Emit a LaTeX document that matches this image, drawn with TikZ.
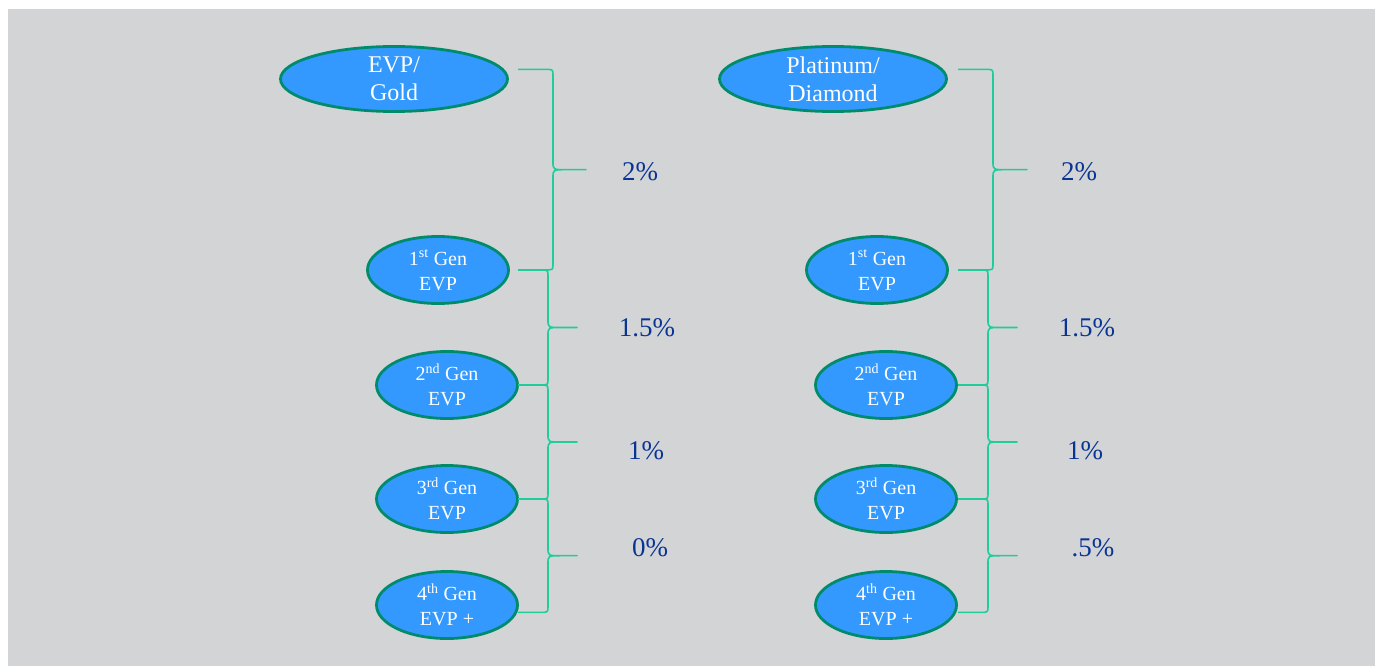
\documentclass[tikz,border=0pt]{standalone}
\usepackage{fontspec}
\setmainfont{Liberation Serif}
\usetikzlibrary{shapes.geometric, calc}
\definecolor{slate}{HTML}{D3D4D6}
\definecolor{rankfill}{HTML}{3399FF}
\definecolor{rankedge}{HTML}{008C6C}
\definecolor{bracegreen}{HTML}{1FCC9A}
\definecolor{ratenavy}{HTML}{0A3494}

\begin{document}
\begin{tikzpicture}[ % one pixel of the layout is one point
        x=1pt, y=-1pt,
        rank/.style={ellipse, draw=rankedge, line width=2.8pt, fill=rankfill, text=white, align=center,
            inner sep=0pt, inner ysep=-12pt, minimum width=141pt, minimum height=67pt,
            font=\fontsize{20}{25}\selectfont}, % generation bubbles
        toprank/.style={rank, minimum width=227pt, minimum height=65pt, font=\fontsize{24}{28}\selectfont}, % title bubbles
        rate/.style={text=ratenavy, font=\fontsize{27}{30}\selectfont}, % percentages
        gapbrace/.style n args={3}{draw=bracegreen, line width=1.6pt, line join=round, to path={
            let \p1=(\tikztostart), \p2=(\tikztotarget), \p3=($(\p1)!.5!(\p2)$) in
            (#1pt,\y1) -- (#2pt-8pt,\y1) .. controls (#2pt,\y1) .. (#2pt,\y1-6pt)
            -- (#2pt,\y3+8pt) .. controls (#2pt,\y3) .. (#2pt+13pt,\y3) -- (#3pt,\y3)
            -- (#2pt+13pt,\y3) .. controls (#2pt,\y3) .. (#2pt,\y3-8pt)
            -- (#2pt,\y2+6pt) .. controls (#2pt,\y2) .. (#2pt-8pt,\y2) -- (#1pt,\y2)}} % bracket between two ranks
    ]
    \useasboundingbox (0,0) rectangle (1381,666);
    \fill[slate] (8,9) rectangle (1375,666);
    % --- Rank bubbles ---
    \node (evpgold) [toprank] at (394,79) {EVP/\\Gold};
    \node (platdia) [toprank] at (833,79) {Platinum/\\Diamond};
    \foreach \n/\sfx/\xx/\yy/\tail in {1/st/438/270/EVP, 2/nd/447/385/EVP, 3/rd/447/499/EVP, 4/th/447/605/EVP +} {
        \node (lgen\n) [rank] at (\xx,\yy) {\n\textsuperscript{\sfx} Gen\\\tail};
        \node (rgen\n) [rank] at (\xx+439,\yy) {\n\textsuperscript{\sfx} Gen\\\tail};
    }
    % --- Brackets between ranks ---
    \draw[gapbrace={518}{553}{586}] (evpgold.5) to (lgen1.east);
    \draw[gapbrace={518}{548}{577}] (lgen1.east) to (lgen2.east);
    \draw[gapbrace={518}{548}{577}] (lgen2.east) to (lgen3.east);
    \draw[gapbrace={518}{548}{577}] (lgen3.east) to (lgen4.-6);
    \draw[gapbrace={958}{993}{1027}] (platdia.5) to (rgen1.east);
    \draw[gapbrace={958}{988}{1017}] (rgen1.east) to (rgen2.east);
    \draw[gapbrace={958}{988}{1017}] (rgen2.east) to (rgen3.east);
    \draw[gapbrace={958}{988}{1017}] (rgen3.east) to (rgen4.-6);
    % --- Percentages ---
    \node (lrate1) [rate] at (640,172) {2\%};
    \node (lrate2) [rate] at (647,328) {1.5\%};
    \node (lrate3) [rate] at (646,451) {1\%};
    \node (lrate4) [rate] at (650,548) {0\%};
    \node (rrate1) [rate] at (1079,172) {2\%};
    \node (rrate2) [rate] at (1087,328) {1.5\%};
    \node (rrate3) [rate] at (1085,451) {1\%};
    \node (rrate4) [rate] at (1093,548) {.5\%};
\end{tikzpicture}
\end{document}
